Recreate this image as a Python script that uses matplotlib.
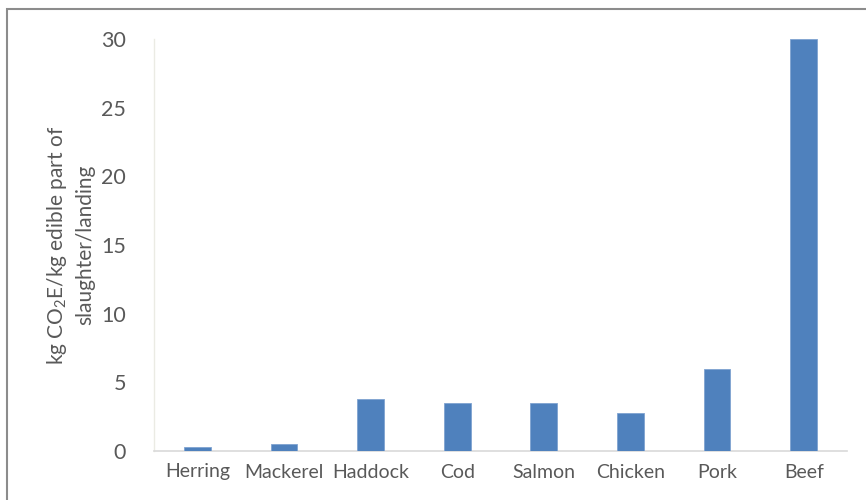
import matplotlib
matplotlib.use("Agg")
import matplotlib.pyplot as plt
from matplotlib.patches import Rectangle

plt.rcParams['font.family'] = ['Lato', 'DejaVu Sans']
plt.rcParams['mathtext.fontset'] = 'custom'
plt.rcParams['mathtext.rm'] = 'Lato'
plt.rcParams['mathtext.it'] = 'Lato:italic'

categories = ["Herring", "Mackerel", "Haddock", "Cod", "Salmon", "Chicken", "Pork", "Beef"]
values = [0.3, 0.5, 3.8, 3.5, 3.5, 2.8, 6.0, 30.0]
yticks = [0, 5, 10, 15, 20, 25, 30]

text_color = "#595959"
bar_color = "#4f81bd"

fig = plt.figure(figsize=(8.66, 5.0), dpi=100)
W, H = 866, 500
ax = fig.add_axes([154 / W, 1 - 451 / H, (847 - 154) / W, (451 - 39) / H])

x = range(len(categories))
ax.bar(x, values, width=0.31, color=bar_color, edgecolor="#7fa3d1", linewidth=0.6, zorder=3)

ax.set_xlim(-0.5, len(categories) - 0.5)
ax.set_ylim(0, 30)
ax.set_yticks(yticks)
ax.set_yticklabels([str(t) for t in yticks], fontsize=15.5, color=text_color)
ax.set_xticks(list(x))
ax.set_xticklabels(categories, fontsize=14, color=text_color)
ax.tick_params(axis='both', length=0)
ax.tick_params(axis='y', pad=20)
ax.tick_params(axis='x', pad=9)

for side in ("top", "right"):
    ax.spines[side].set_visible(False)
ax.spines["left"].set_color("#ebebe4")
ax.spines["bottom"].set_color("#d9d9d9")
ax.spines["left"].set_linewidth(1.0)
ax.spines["bottom"].set_linewidth(1.2)

ax.set_ylabel("kg CO$_2$E/kg edible part of\nslaughter/landing", fontsize=15,
              color=text_color, linespacing=1.35)
ax.yaxis.set_label_coords(-0.085, 0.5)

# chart frame
fig.patches.append(Rectangle((7 / W, -0.1), 1.0, 1 - 9 / H + 0.1, transform=fig.transFigure,
                             fill=False, edgecolor="#8c8c8c", linewidth=1.5))

fig.savefig("out.png", dpi=100, facecolor="white")
